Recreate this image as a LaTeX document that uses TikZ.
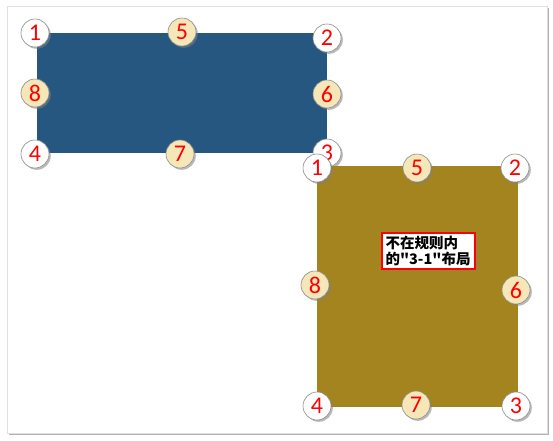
\documentclass[tikz,border=0pt]{standalone}
\usepackage{fontspec}
\setmainfont{Carlito}
\newfontfamily\cjk{Noto Sans CJK SC}
\usetikzlibrary{shadows,positioning}
\definecolor{panelblue}{HTML}{255780}
\definecolor{panelgold}{HTML}{A3841E}
\definecolor{badgecream}{HTML}{F6E7B8}
\tikzstyle{badge} = [circle, draw=black!45, line width=0.6pt, minimum size=28pt, inner sep=0pt, text=red,
	font=\fontsize{24}{24}\selectfont, drop shadow={shadow xshift=1.8pt, shadow yshift=-1.8pt, opacity=0.55}]

\begin{document}
\begin{tikzpicture}
	[x=1pt, y=-1pt,
	plain/.style={badge, fill=white},
	cream/.style={badge, fill=badgecream},
	panel/.style={draw=none, inner sep=0pt, anchor=north west}]
	\useasboundingbox[fill=white] (0,0) rectangle (553,440);
	% page frame
	\node[draw=black!12, fill=white, inner sep=0pt, minimum width=540pt, minimum height=427pt, anchor=north west,
		drop shadow={shadow xshift=2pt, shadow yshift=-2pt, opacity=0.6}] (page) at (7,6) {};

	% first panel
	\node[panel, fill=panelblue, minimum width=290pt, minimum height=120pt] (blue) at (37,33) {};
	\foreach \n/\x/\y/\s in {1/35/33/plain, 5/182/32/cream, 2/327/38/plain, 8/35/93/cream,
		6/327/94/cream, 4/35/154/plain, 7/180/154/cream, 3/327/153/plain}
		\node[\s] (b\n) at (\x,\y) {\n};

	% second panel
	\node[panel, fill=panelgold, minimum width=201pt, minimum height=241pt] (gold) at (317,166) {};
	\foreach \n/\x/\y/\s in {1/317/168/plain, 5/417/168/cream, 2/515/168/plain, 8/315/285/cream,
		6/516/290/cream, 4/317/406/plain, 7/416/405/cream, 3/516/406/plain}
		\node[\s] (g\n) at (\x,\y) {\n};

	\node[draw=red, line width=2pt, fill=white, align=left, inner xsep=4pt, inner ysep=3pt,
		font=\cjk\bfseries\fontsize{14.5}{16}\selectfont,
		drop shadow={shadow xshift=2pt, shadow yshift=-2pt, opacity=0.4}] (note) at (428,251)
		{不在规则内\\的"3-1"布局};
\end{tikzpicture}
\end{document}
